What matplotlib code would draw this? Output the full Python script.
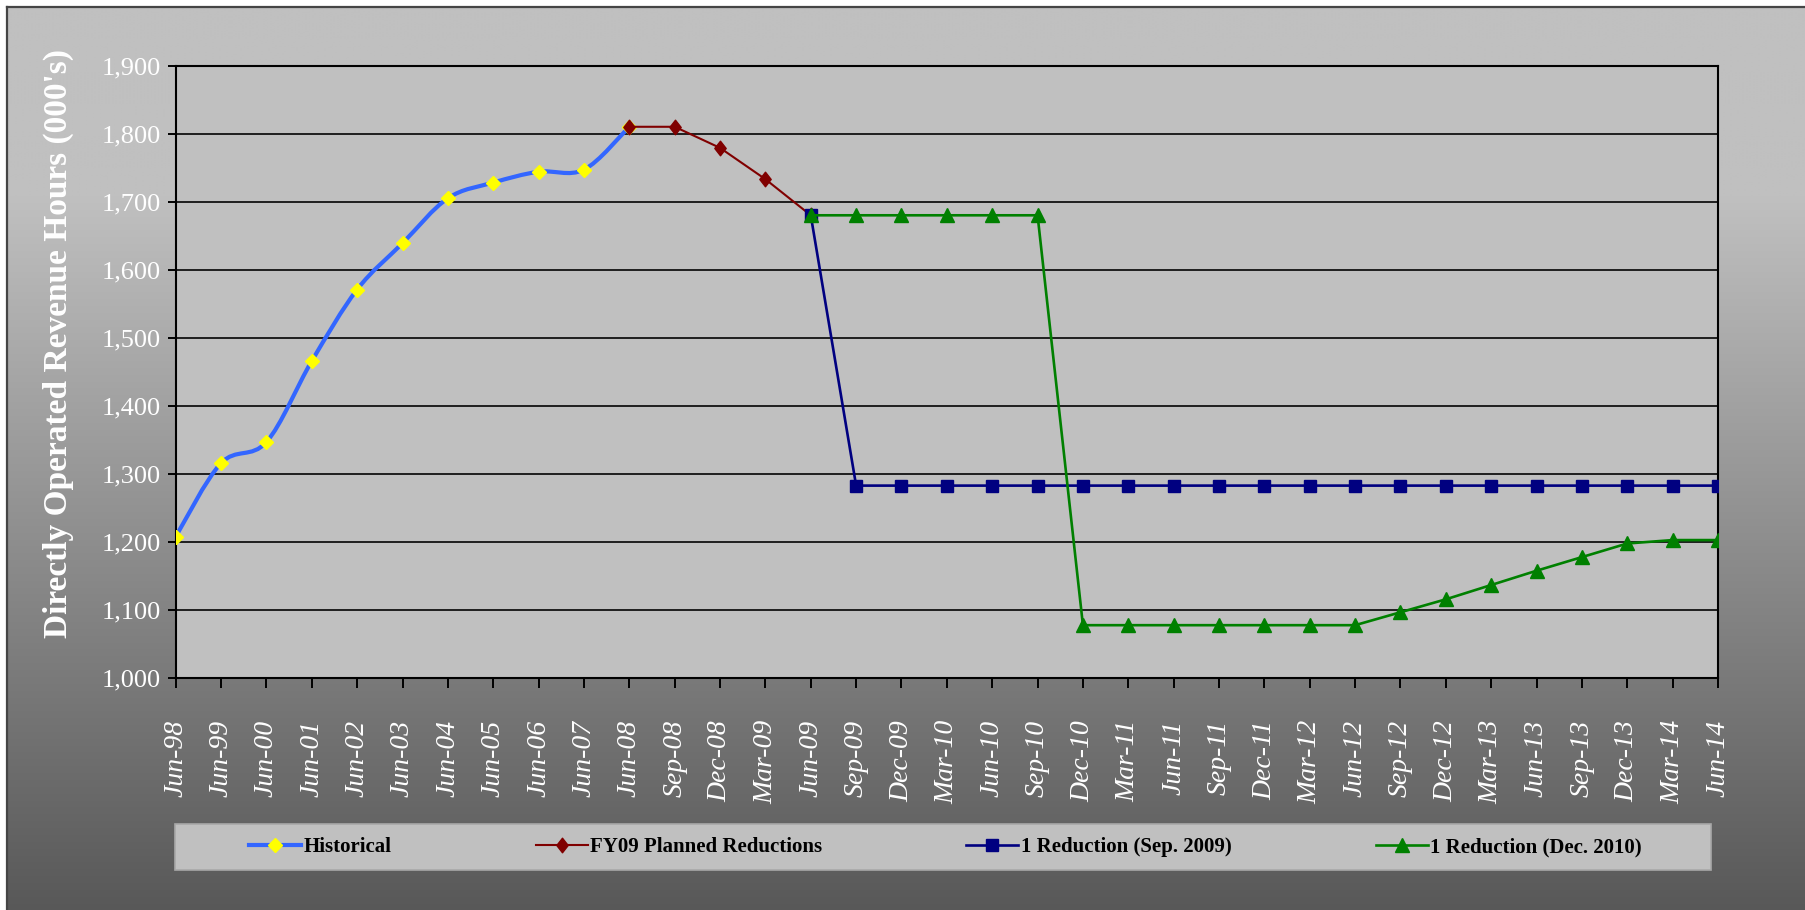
import numpy as np
import matplotlib
matplotlib.use("Agg")
import matplotlib.pyplot as plt
from matplotlib.path import Path
from matplotlib.patches import PathPatch, Rectangle
from matplotlib.lines import Line2D
from matplotlib.ticker import FuncFormatter, FixedLocator

# ---- data -------------------------------------------------------------
periods = ["Jun-98", "Jun-99", "Jun-00", "Jun-01", "Jun-02", "Jun-03", "Jun-04",
           "Jun-05", "Jun-06", "Jun-07", "Jun-08", "Sep-08", "Dec-08", "Mar-09",
           "Jun-09", "Sep-09", "Dec-09", "Mar-10", "Jun-10", "Sep-10", "Dec-10",
           "Mar-11", "Jun-11", "Sep-11", "Dec-11", "Mar-12", "Jun-12", "Sep-12",
           "Dec-12", "Mar-13", "Jun-13", "Sep-13", "Dec-13", "Mar-14", "Jun-14"]

nan = np.nan
historical = [1208, 1316, 1347, 1466, 1571, 1639, 1705, 1728, 1744, 1747, 1810] + [nan] * 24
fy09_planned = [nan] * 10 + [1810, 1810, 1779, 1733, 1680] + [nan] * 20
reduction_sep09 = [nan] * 14 + [1680] + [1283] * 20
reduction_dec10 = ([nan] * 14 + [1680] * 6 + [1078] * 7 +
                   [1097, 1116, 1137, 1158, 1178, 1198, 1203, 1203])

series_labels = ["Historical", "FY09 Planned Reductions",
                 "1 Reduction (Sep. 2009)", "1 Reduction (Dec. 2010)"]
y_ticks = [1000, 1100, 1200, 1300, 1400, 1500, 1600, 1700, 1800, 1900]
y_title = "Directly Operated Revenue Hours (000's)"

# ---- styling ----------------------------------------------------------
SERIF = ["Liberation Serif", "DejaVu Serif"]
plt.rcParams["font.family"] = SERIF

W, H = 1806, 910
fig = plt.figure(figsize=(W / 100, H / 100), dpi=100)
fig.patch.set_facecolor("white")

# chart area: grey vertical gradient, framed on the left and top
fx0, fy_top = 7 / W, 1 - 7 / H
bg = fig.add_axes([fx0, 0, 1 - fx0, fy_top], zorder=-10)
rows = np.arange(H)
top_level, bottom_level, start_row = 192, 88, 190
shade = np.where(rows < start_row, top_level,
                 top_level - (top_level - bottom_level) * (rows - start_row) / (H - start_row))
grad = np.repeat(shade[:, None], 4, axis=1) / 255.0
bg.imshow(np.dstack([grad, grad, grad]), aspect="auto", extent=(0, 1, 0, 1),
          interpolation="bilinear")
bg.set_axis_off()
fig.add_artist(Line2D([fx0, fx0], [0, fy_top], transform=fig.transFigure,
                      color="#454545", lw=1.6))
fig.add_artist(Line2D([fx0, 1], [fy_top, fy_top], transform=fig.transFigure,
                      color="#454545", lw=1.6))

# plot area
left, right = 175.7 / W, 1718 / W
bottom, top = 1 - 678.3 / H, 1 - 65.5 / H
ax = fig.add_axes([left, bottom, right - left, top - bottom])
ax.set_facecolor("#c0c0c0")

x = np.arange(len(periods))


def smooth_path(xs, ys):
    """Bezier path through the points, with tangents taken from neighbours."""
    pts = np.array([(a, b) for a, b in zip(xs, ys) if not np.isnan(b)], dtype=float)
    n = len(pts)
    verts = [pts[0]]
    codes = [Path.MOVETO]
    for i in range(n - 1):
        p0 = pts[max(i - 1, 0)]
        p1 = pts[i]
        p2 = pts[i + 1]
        p3 = pts[min(i + 2, n - 1)]
        c1 = p1 + (p2 - p0) / 6.0
        c2 = p2 - (p3 - p1) / 6.0
        verts += [c1, c2, p2]
        codes += [Path.CURVE4] * 3
    return Path(verts, codes)


# historical: smoothed line with yellow diamonds
hist_color = "#3366ff"
ax.add_patch(PathPatch(smooth_path(x, historical), fill=False, edgecolor=hist_color,
                       lw=3.0, capstyle="round", joinstyle="round", zorder=3))
ax.plot(x, historical, ls="none", marker="D", ms=7.2, mfc="#ffff00", mec="#ffff00",
        zorder=4)

thin_diamond = Path([(0, 1), (0.78, 0), (0, -1), (-0.78, 0), (0, 1)],
                    [Path.MOVETO, Path.LINETO, Path.LINETO, Path.LINETO, Path.CLOSEPOLY])

ax.plot(x, fy09_planned, color="#800000", lw=1.5, marker=thin_diamond, ms=10.5,
        mfc="#800000", mec="#800000", zorder=5)
ax.plot(x, reduction_sep09, color="#000080", lw=1.9, marker="s", ms=8,
        mfc="#000080", mec="#000080", zorder=6)
ax.plot(x, reduction_dec10, color="#008000", lw=1.9, marker="^", ms=9.5,
        mfc="#008000", mec="#008000", zorder=7)

# axes, grid, ticks
ax.set_xlim(0, len(periods) - 1)
ax.set_ylim(y_ticks[0], y_ticks[-1])
ax.yaxis.set_major_locator(FixedLocator(y_ticks))
ax.yaxis.set_major_formatter(FuncFormatter(lambda v, p: f"{int(v):,}"))
ax.set_xticks(x)
ax.set_xticklabels(periods, rotation=90, fontstyle="italic", fontsize=20,
                   color="white")
ax.grid(axis="y", color="#1e1e1e", lw=1.4, zorder=1)
ax.set_axisbelow(True)
for s in ax.spines.values():
    s.set_color("black")
    s.set_linewidth(1.5)
ax.tick_params(axis="x", direction="out", length=7, width=1.4, color="black",
               pad=23)
ax.tick_params(axis="y", direction="out", length=6, width=1.4, color="black",
               pad=5, labelsize=19, labelcolor="white")

fig.text(58 / W, 1 - 344 / H, y_title, rotation=90, ha="center", va="center",
         fontsize=24, fontweight="bold", color="white")

# legend band
lg_x0, lg_x1 = 175 / W, 1711 / W
lg_y0, lg_y1 = 1 - 870 / H, 1 - 824 / H
fig.add_artist(Rectangle((lg_x0, lg_y0), lg_x1 - lg_x0, lg_y1 - lg_y0,
                         transform=fig.transFigure, facecolor="#c0c0c0",
                         edgecolor="#a8a8a8", lw=1.2, zorder=2))
handles = [
    Line2D([], [], color=hist_color, lw=3.0, marker="D", ms=7.2, mfc="#ffff00",
           mec="#ffff00"),
    Line2D([], [], color="#800000", lw=1.5, marker=thin_diamond, ms=10.5,
           mfc="#800000", mec="#800000"),
    Line2D([], [], color="#000080", lw=1.9, marker="s", ms=8, mfc="#000080",
           mec="#000080"),
    Line2D([], [], color="#008000", lw=1.9, marker="^", ms=9.5, mfc="#008000",
           mec="#008000"),
]
inner_x0, inner_x1 = 249 / W, 1642 / W
leg = fig.legend(handles, series_labels, loc="center",
                 bbox_to_anchor=(inner_x0, lg_y0, inner_x1 - inner_x0, lg_y1 - lg_y0),
                 mode="expand", ncol=4, frameon=False, borderaxespad=0, borderpad=0,
                 handlelength=2.5, handletextpad=0.12,
                 prop={"family": SERIF, "weight": "bold", "size": 15})
leg.set_zorder(3)

fig.savefig("out.png", dpi=100, facecolor=fig.get_facecolor())
